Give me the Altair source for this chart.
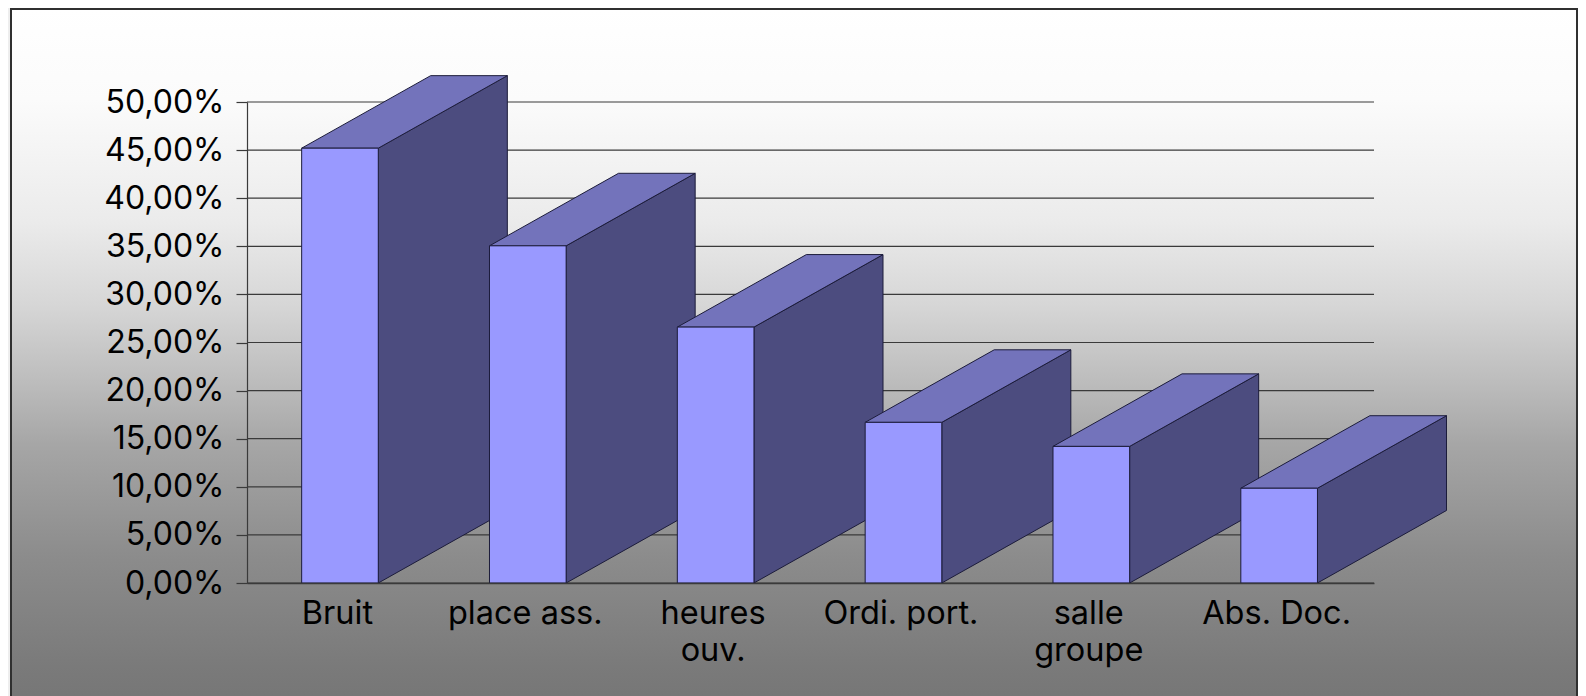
import json
import altair as alt
import pandas as pd

categories = ["Bruit", "place ass.", "heures\nouv.", "Ordi. port.", "salle\ngroupe", "Abs. Doc."]
values = [45.2, 35.05, 26.6, 16.7, 14.2, 9.85]
y_ticks = [0, 5, 10, 15, 20, 25, 30, 35, 40, 45, 50]

FONT = "Inter"
FRONT = "#9999ff"
TOP = "#7373bb"
SIDE = "#4c4c7f"
EDGE = "#1c1c3a"
LINE = "#3a3a3a"

W, H = 1127, 481
BAR_W = 0.408
DX, DY = 0.687, 7.54

front_rows, top_rows, side_rows = [], [], []
for i, (cat, v) in enumerate(zip(categories, values)):
    xl = i + 0.495 - BAR_W / 2
    xr = xl + BAR_W
    front_rows.append({"bar": i, "x": xl, "x2": xr, "y": v, "y2": 0})
    top_rows += [
        {"bar": i, "x": xl, "x2": xr, "y": v},
        {"bar": i, "x": xl + DX, "x2": xr + DX, "y": v + DY},
    ]
    side_rows += [
        {"bar": i, "x": xr, "y": v, "y2": 0},
        {"bar": i, "x": xr + DX, "y": v + DY, "y2": DY},
    ]

xs = alt.Scale(domain=[0, 6], nice=False, zero=False)
ys = alt.Scale(domain=[0, 50], nice=False, zero=False)

panel_fill = alt.Gradient(
    gradient="linear", x1=0, x2=0, y1=0, y2=1,
    stops=[
        alt.GradientStop(offset=0.0, color="#ffffff"),
        alt.GradientStop(offset=0.129, color="#fbfbfb"),
        alt.GradientStop(offset=0.303, color="#ebebeb"),
        alt.GradientStop(offset=0.422, color="#d6d6d6"),
        alt.GradientStop(offset=0.536, color="#bbbbbb"),
        alt.GradientStop(offset=0.619, color="#a6a6a6"),
        alt.GradientStop(offset=0.777, color="#8c8c8c"),
        alt.GradientStop(offset=0.935, color="#7a7a7a"),
        alt.GradientStop(offset=1.0, color="#757575"),
    ],
)

label_lines = [c.split("\n") for c in categories]
x_axis = alt.Axis(
    values=[i + 0.5 for i in range(len(categories))],
    labelExpr=json.dumps(label_lines) + "[floor(datum.value)]",
    ticks=False, grid=False, title=None, zindex=1,
    domain=True, domainColor=LINE, domainWidth=1.5,
    labelFont=FONT, labelFontSize=32.5, labelColor="#000000",
    labelPadding=14, labelLineHeight=37, labelOffset=-4,
    labelAngle=0, labelOverlap=False, labelAlign="center",
)
y_axis = alt.Axis(
    values=y_ticks,
    labelExpr="replace(format(datum.value,'.2f'),'.',',')+'%'",
    tickSize=11, tickColor=LINE, tickWidth=1.2, labelPadding=12,
    grid=False, title=None, zindex=1,
    domain=True, domainColor=LINE, domainWidth=1.2,
    labelFont=FONT, labelFontSize=32, labelColor="#000000",
    labelOverlap=False,
)

panel = alt.Chart(pd.DataFrame({"p": [0]})).mark_rect(
    fill=panel_fill, stroke="#303030", strokeWidth=2
).encode(
    x=alt.value(-236), x2=alt.value(1330), y=alt.value(-93), y2=alt.value(610)
)

grid = alt.Chart(pd.DataFrame({"tick": y_ticks})).mark_rule(
    color=LINE, strokeWidth=1.2
).encode(y=alt.Y("tick:Q", scale=ys, axis=y_axis))

side = alt.Chart(pd.DataFrame(side_rows)).mark_area(
    fill=SIDE, stroke=EDGE, strokeWidth=1, opacity=1
).encode(
    x=alt.X("x:Q", scale=xs, axis=x_axis),
    y=alt.Y("y:Q", scale=ys, axis=y_axis),
    y2="y2:Q",
    detail="bar:N",
)

top = alt.Chart(pd.DataFrame(top_rows)).mark_area(
    fill=TOP, stroke=EDGE, strokeWidth=1, opacity=1, orient="horizontal"
).encode(
    y=alt.Y("y:Q", scale=ys, axis=y_axis),
    x=alt.X("x:Q", scale=xs, axis=x_axis),
    x2="x2:Q",
    detail="bar:N",
)

front = alt.Chart(pd.DataFrame(front_rows)).mark_rect(
    fill=FRONT, stroke=EDGE, strokeWidth=1, opacity=1
).encode(
    x=alt.X("x:Q", scale=xs, axis=x_axis),
    x2="x2:Q",
    y=alt.Y("y:Q", scale=ys, axis=y_axis),
    y2="y2:Q",
)

chart = alt.layer(panel, grid, side, top, front).properties(
    width=W, height=H,
    background="#eeeeee",
    padding={"left": 239, "top": 94, "right": 204, "bottom": 113},
    autosize=alt.AutoSizeParams(type="none"),
).configure_view(stroke=None)

chart.save("out.html", embed_options={"renderer": "svg", "actions": False})
